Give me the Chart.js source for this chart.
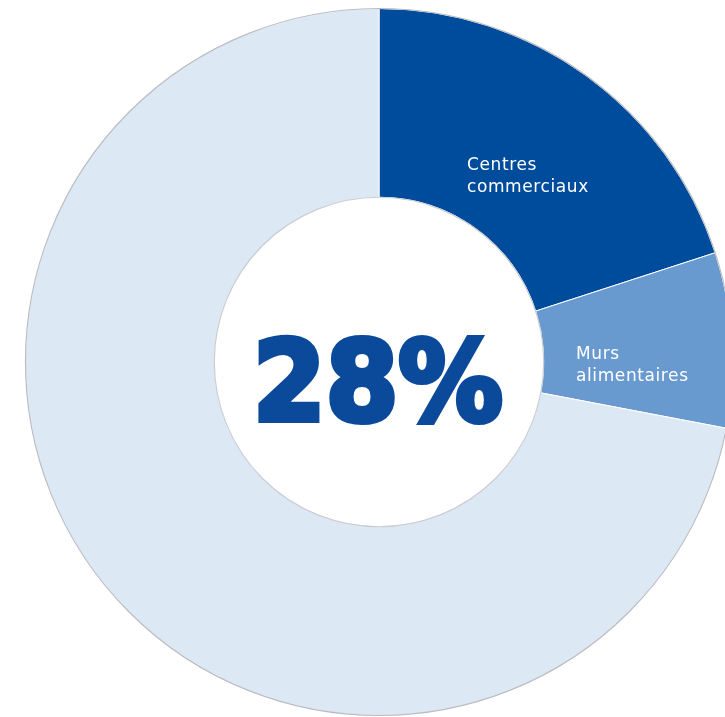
<!DOCTYPE html>
<html>
<head>
<meta charset="utf-8">
<script src="https://cdn.jsdelivr.net/npm/chart.js@4"></script>
<style>
  html, body { margin: 0; padding: 0; background: #ffffff; overflow: hidden; }
  #wrap { position: absolute; left: 0; top: 0; width: 758px; height: 724px; }
</style>
</head>
<body>
<div id="wrap"><canvas id="donut"></canvas></div>
<script>
// segments, clockwise from 12 o'clock
const labels = ["Centres commerciaux", "Murs alimentaires", "Autres"];
const shares = [20, 8, 72];
const colors = ["#004c9c", "#6899cf", "#dde8f5"];
const labelLines = [["Centres", "commerciaux"], ["Murs", "alimentaires"], []];
const totalText = "28%";

// outline around the ring + text in the middle and on the slices
const ringDecor = {
  id: "ringDecor",
  afterDatasetsDraw(chart) {
    const ctx = chart.ctx;
    const arc = chart.getDatasetMeta(0).data[0];
    const cx = arc.x, cy = arc.y;

    ctx.save();
    ctx.strokeStyle = "#b9bcc2";
    ctx.lineWidth = 1.2;
    ctx.beginPath();
    ctx.arc(cx, cy, arc.outerRadius, 0, Math.PI * 2);
    ctx.stroke();
    ctx.strokeStyle = "#c9ccd2";
    ctx.beginPath();
    ctx.arc(cx, cy, arc.innerRadius, 0, Math.PI * 2);
    ctx.stroke();

    // big percentage, stroked to get a heavier weight
    ctx.fillStyle = "#0b4a9a";
    ctx.strokeStyle = "#0b4a9a";
    ctx.lineWidth = 6;
    ctx.lineJoin = "miter";
    ctx.miterLimit = 3;
    ctx.font = "bold 110px 'DejaVu Sans'";
    ctx.textBaseline = "alphabetic";
    ctx.textAlign = "left";
    const w = ctx.measureText(totalText).width;
    const targetW = 250;
    ctx.translate(cx - targetW / 2 - 1, cy + 58);
    ctx.scale(targetW / w, 1);
    ctx.fillText(totalText, 0, 0);
    ctx.strokeText(totalText, 0, 0);
    ctx.restore();

    // slice labels
    ctx.save();
    ctx.fillStyle = "#ffffff";
    ctx.font = "17px 'DejaVu Sans'";
    ctx.letterSpacing = "0.6px";
    ctx.textAlign = "left";
    ctx.textBaseline = "alphabetic";
    const spots = [[88, -192], [197, -3]];
    spots.forEach((p, i) => {
      labelLines[i].forEach((line, j) => {
        ctx.fillText(line, cx + p[0], cy + p[1] + j * 22);
      });
    });
    ctx.restore();
  }
};

new Chart(document.getElementById("donut"), {
  type: "doughnut",
  data: {
    labels: labels,
    datasets: [{
      data: shares,
      backgroundColor: colors,
      borderColor: "#ffffff",
      borderWidth: 1,
      hoverOffset: 0
    }]
  },
  options: {
    responsive: true,
    maintainAspectRatio: false,
    animation: false,
    cutout: "46.6%",
    layout: { padding: { left: 25, right: 25, top: 8, bottom: 8 } },
    plugins: {
      legend: { display: false },
      tooltip: { enabled: false }
    }
  },
  plugins: [ringDecor]
});
</script>
</body>
</html>
